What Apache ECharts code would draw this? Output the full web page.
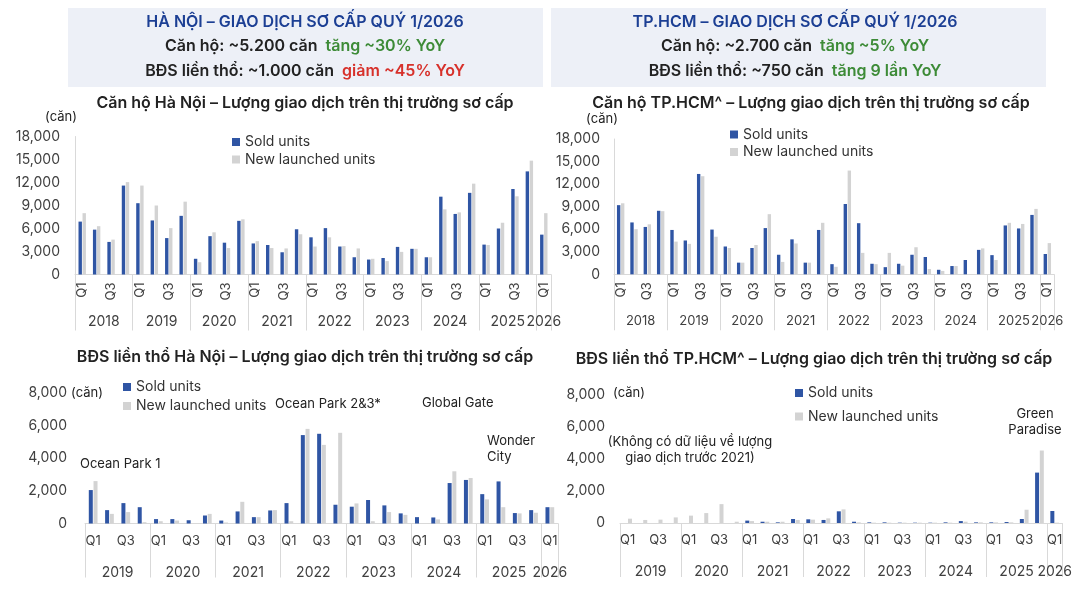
<!DOCTYPE html>
<html>
<head>
<meta charset="utf-8">
<script src="https://cdn.jsdelivr.net/npm/echarts@6/dist/echarts.min.js"></script>
<style>
html, body { margin: 0; padding: 0; background: #fff; }
#main { width: 1075px; height: 594px; }
</style>
</head>
<body>
<div id="main"></div>
<script>
var FONT = 'Inter, "Noto Sans", sans-serif';
var BLUE = '#2f55a4';
var GREY = '#d3d3d3';
var AXIS = '#d9d9d9';
var TXT = '#404040';

// years on the axes
var aptYears = [2018, 2019, 2020, 2021, 2022, 2023, 2024, 2025, 2026];
var landYears = [2019, 2020, 2021, 2022, 2023, 2024, 2025, 2026];
var quarterNames = ['Q1', 'Q2', 'Q3', 'Q4'];

// Căn hộ Hà Nội (2018Q1 - 2026Q1)
var hnAptSold = [6900, 5850, 4250, 11600, 9300, 7050, 4750, 7650, 2050, 5000, 4150, 7000,
  4050, 3850, 2900, 5900, 4850, 6050, 3650, 2250, 1950, 2150, 3600, 3350,
  2250, 10150, 7900, 10650, 3900, 6000, 11150, 13450, 5200];
var hnAptNew = [8000, 6300, 4550, 12050, 11600, 9000, 6050, 9500, 1600, 5500, 3450, 7200,
  4350, 3450, 3400, 5250, 3650, 4850, 3700, 3400, 2050, 1750, 2950, 3350,
  2250, 8500, 8100, 11850, 3850, 6750, 10200, 14850, 8000];

// Căn hộ TP.HCM (2018Q1 - 2026Q1)
var hcmAptSold = [9200, 6900, 6300, 8450, 5900, 4500, 13350, 5950, 3700, 1550, 3500, 6150,
  2600, 4650, 1550, 5900, 1350, 9350, 6800, 1400, 950, 1400, 2600, 2300,
  600, 1100, 1900, 3250, 2550, 6500, 6100, 7900, 2700];
var hcmAptNew = [9450, 6000, 6650, 8400, 4350, 4050, 13050, 5000, 3500, 1550, 3900, 8000,
  1650, 4100, 1550, 6850, 1000, 13800, 2850, 1350, 2850, 1150, 3600, 700,
  450, 1100, 0, 3450, 1900, 6850, 6700, 8700, 4150];

// BĐS liền thổ Hà Nội (2019Q1 - 2026Q1)
var hnLandSold = [2050, 820, 1250, 1000, 270, 270, 200, 490, 180, 740, 390, 800,
  1250, 5420, 5500, 1150, 1030, 1440, 1110, 620, 390, 370, 2480, 2670,
  1800, 2580, 640, 820, 1000];
var hnLandNew = [2600, 590, 700, 80, 140, 180, 0, 590, 60, 1330, 390, 820,
  140, 5800, 4820, 5560, 1230, 140, 700, 530, 0, 250, 3200, 2790,
  1480, 1000, 620, 660, 1000];

// BĐS liền thổ TP.HCM (2019Q1 - 2026Q1), no sold data before 2021
var hcmLandSold = [null, null, null, null, null, null, null, null, 150, 80, 40, 250,
  230, 190, 730, 80, 40, 40, 20, 20, 20, 40, 120, 40,
  40, 60, 250, 3150, 750];
var hcmLandNew = [270, 190, 210, 350, 460, 620, 1180, 80, 120, 80, 80, 190,
  210, 290, 850, 40, 20, 20, 20, 20, 20, 20, 80, 40,
  40, 40, 830, 4530, 20];

function quarterCats(years, n) {
  var out = [];
  for (var i = 0; i < n; i++) {
    out.push(quarterNames[i % 4] + ' ' + years[Math.floor(i / 4)]);
  }
  return out;
}

function quarterAxis(grid, cats, rotate, margin) {
  return {
    type: 'category', gridIndex: grid, data: cats,
    axisLine: { lineStyle: { color: AXIS } },
    axisTick: { show: false },
    axisLabel: {
      interval: 0, rotate: rotate, margin: margin, color: TXT,
      fontFamily: FONT, fontSize: 13,
      formatter: function (v) {
        var q = v.split(' ')[0];
        return (q === 'Q1' || q === 'Q3') ? q : '';
      }
    }
  };
}

function yearAxis(grid, years, n, margin, tickLen, size) {
  var bounds = [], centers = [];
  for (var k = 0; k * 4 < n; k++) {
    bounds.push(k * 4);
    centers.push(k * 4 + Math.min(4, n - k * 4) / 2);
  }
  bounds.push(n);
  return {
    type: 'value', gridIndex: grid, min: 0, max: n, position: 'bottom',
    axisLine: { show: false }, splitLine: { show: false },
    axisTick: { show: true, customValues: bounds, length: tickLen, lineStyle: { color: AXIS } },
    axisLabel: {
      customValues: centers, margin: margin, color: TXT, fontFamily: FONT, fontSize: size || 14,
      hideOverlap: false, showMinLabel: true, showMaxLabel: true,
      formatter: function (v) { return String(years[Math.floor(v / 4)]); }
    }
  };
}

function valueAxis(grid, max, step, showLine, margin) {
  return {
    type: 'value', gridIndex: grid, min: 0, max: max, interval: step,
    axisLine: { show: showLine, lineStyle: { color: AXIS } },
    axisTick: { show: false }, splitLine: { show: false },
    axisLabel: {
      margin: margin, color: TXT, fontFamily: FONT, fontSize: 14,
      formatter: function (v) { return v.toLocaleString('en-US'); }
    }
  };
}

function bars(name, data, color, xi, yi, width) {
  return {
    name: name, type: 'bar', data: data, xAxisIndex: xi, yAxisIndex: yi,
    barWidth: width, barGap: '18%', itemStyle: { color: color }, silent: true
  };
}

function legend(left, top, gap) {
  return {
    left: left, top: top, orient: 'vertical', padding: 0, itemGap: gap,
    itemWidth: 8, itemHeight: 8, icon: 'rect',
    textStyle: { fontFamily: FONT, fontSize: 14, color: '#333', lineHeight: 14 },
    data: ['Sold units', 'New launched units']
  };
}

function headTitle(text, x, y, color, rich) {
  return {
    text: text, left: x, top: y, textAlign: 'center', padding: 0,
    textStyle: { fontFamily: FONT, fontSize: 16, fontWeight: 600, color: color, lineHeight: 20, rich: rich }
  };
}

var rich = {
  d: { fontFamily: FONT, fontSize: 16, fontWeight: 600, color: '#222' },
  g: { fontFamily: FONT, fontSize: 16, fontWeight: 600, color: '#3d8b37' },
  r: { fontFamily: FONT, fontSize: 16, fontWeight: 600, color: '#d7312b' }
};

var aptCats = quarterCats(aptYears, hnAptSold.length);
var landCats = quarterCats(landYears, hnLandSold.length);

function annot(text, x, y, align) {
  return {
    type: 'text', x: x, y: y,
    style: { text: text, fontFamily: FONT, fontSize: 13, fill: '#222', align: align || 'left', verticalAlign: 'middle', lineHeight: 16 }
  };
}

var chart = echarts.init(document.getElementById('main'));
chart.setOption({
  backgroundColor: '#fff',
  animation: false,
  title: [
    headTitle('HÀ NỘI – GIAO DỊCH SƠ CẤP QUÝ 1/2026', 305, 12, '#1c3f94'),
    headTitle('{d|Căn hộ: ~5.200 căn}  {g|tăng ~30% YoY}', 305, 36, '#222', rich),
    headTitle('{d|BĐS liền thổ: ~1.000 căn}  {r|giảm ~45% YoY}', 305, 61, '#222', rich),
    headTitle('TP.HCM – GIAO DỊCH SƠ CẤP QUÝ 1/2026', 795, 12, '#1c3f94'),
    headTitle('{d|Căn hộ: ~2.700 căn}  {g|tăng ~5% YoY}', 795, 36, '#222', rich),
    headTitle('{d|BĐS liền thổ: ~750 căn}  {g|tăng 9 lần YoY}', 795, 61, '#222', rich),
    headTitle('Căn hộ Hà Nội – Lượng giao dịch trên thị trường sơ cấp', 305, 93, '#222'),
    headTitle('Căn hộ TP.HCM^ – Lượng giao dịch trên thị trường sơ cấp', 811, 93, '#222'),
    headTitle('BĐS liền thổ Hà Nội – Lượng giao dịch trên thị trường sơ cấp', 305, 347, '#222'),
    headTitle('BĐS liền thổ TP.HCM^ – Lượng giao dịch trên thị trường sơ cấp', 814, 349, '#222')
  ],
  graphic: [
    { type: 'rect', z: -10, shape: { x: 68, y: 8, width: 475, height: 79 }, style: { fill: '#edf0f7' } },
    { type: 'rect', z: -10, shape: { x: 551, y: 8, width: 495, height: 79 }, style: { fill: '#edf0f7' } },
    annot('(căn)', 61, 117, 'center'),
    annot('(căn)', 602, 119, 'center'),
    annot('(căn)', 87, 393, 'center'),
    annot('(căn)', 629, 393, 'center'),
    annot('Ocean Park 1', 80, 464),
    annot('Ocean Park 2&3*', 275, 404),
    annot('Global Gate', 422, 403),
    annot('Wonder\nCity', 487, 449),
    annot('(Không có dữ liệu về lượng\ngiao dịch trước 2021)', 690, 450, 'center'),
    annot('Green\nParadise', 1035, 422, 'center')
  ],
  legend: [
    legend(232, 135, 3.5),
    legend(730, 127.5, 3.5),
    legend(123, 380, 5),
    legend(795, 386, 9.5)
  ],
  grid: [
    { left: 75, right: 524, top: 136.5, bottom: 319.5 },
    { left: 614, right: 21, top: 139, bottom: 319.7 },
    { left: 85, right: 517, top: 393, bottom: 70.5 },
    { left: 620, right: 9, top: 395, bottom: 71 }
  ],
  xAxis: [
    quarterAxis(0, aptCats, 90, 8),
    yearAxis(0, aptYears, aptCats.length, 40, 56),
    quarterAxis(1, aptCats, 90, 8),
    yearAxis(1, aptYears, aptCats.length, 40, 56, 13),
    quarterAxis(2, landCats, 0, 11),
    yearAxis(2, landYears, landCats.length, 42, 54),
    quarterAxis(3, landCats, 0, 11),
    yearAxis(3, landYears, landCats.length, 42, 54)
  ],
  yAxis: [
    valueAxis(0, 18000, 3000, true, 15),
    valueAxis(1, 18000, 3000, true, 14),
    valueAxis(2, 8000, 2000, false, 18),
    valueAxis(3, 8000, 2000, false, 15)
  ],
  series: [
    bars('Sold units', hnAptSold, BLUE, 0, 0, 3.4),
    bars('New launched units', hnAptNew, GREY, 0, 0, 3.4),
    bars('Sold units', hcmAptSold, BLUE, 2, 1, 3.4),
    bars('New launched units', hcmAptNew, GREY, 2, 1, 3.4),
    bars('Sold units', hnLandSold, BLUE, 4, 2, 4),
    bars('New launched units', hnLandNew, GREY, 4, 2, 4),
    bars('Sold units', hcmLandSold, BLUE, 6, 3, 4),
    bars('New launched units', hcmLandNew, GREY, 6, 3, 4)
  ]
});
</script>
</body>
</html>
